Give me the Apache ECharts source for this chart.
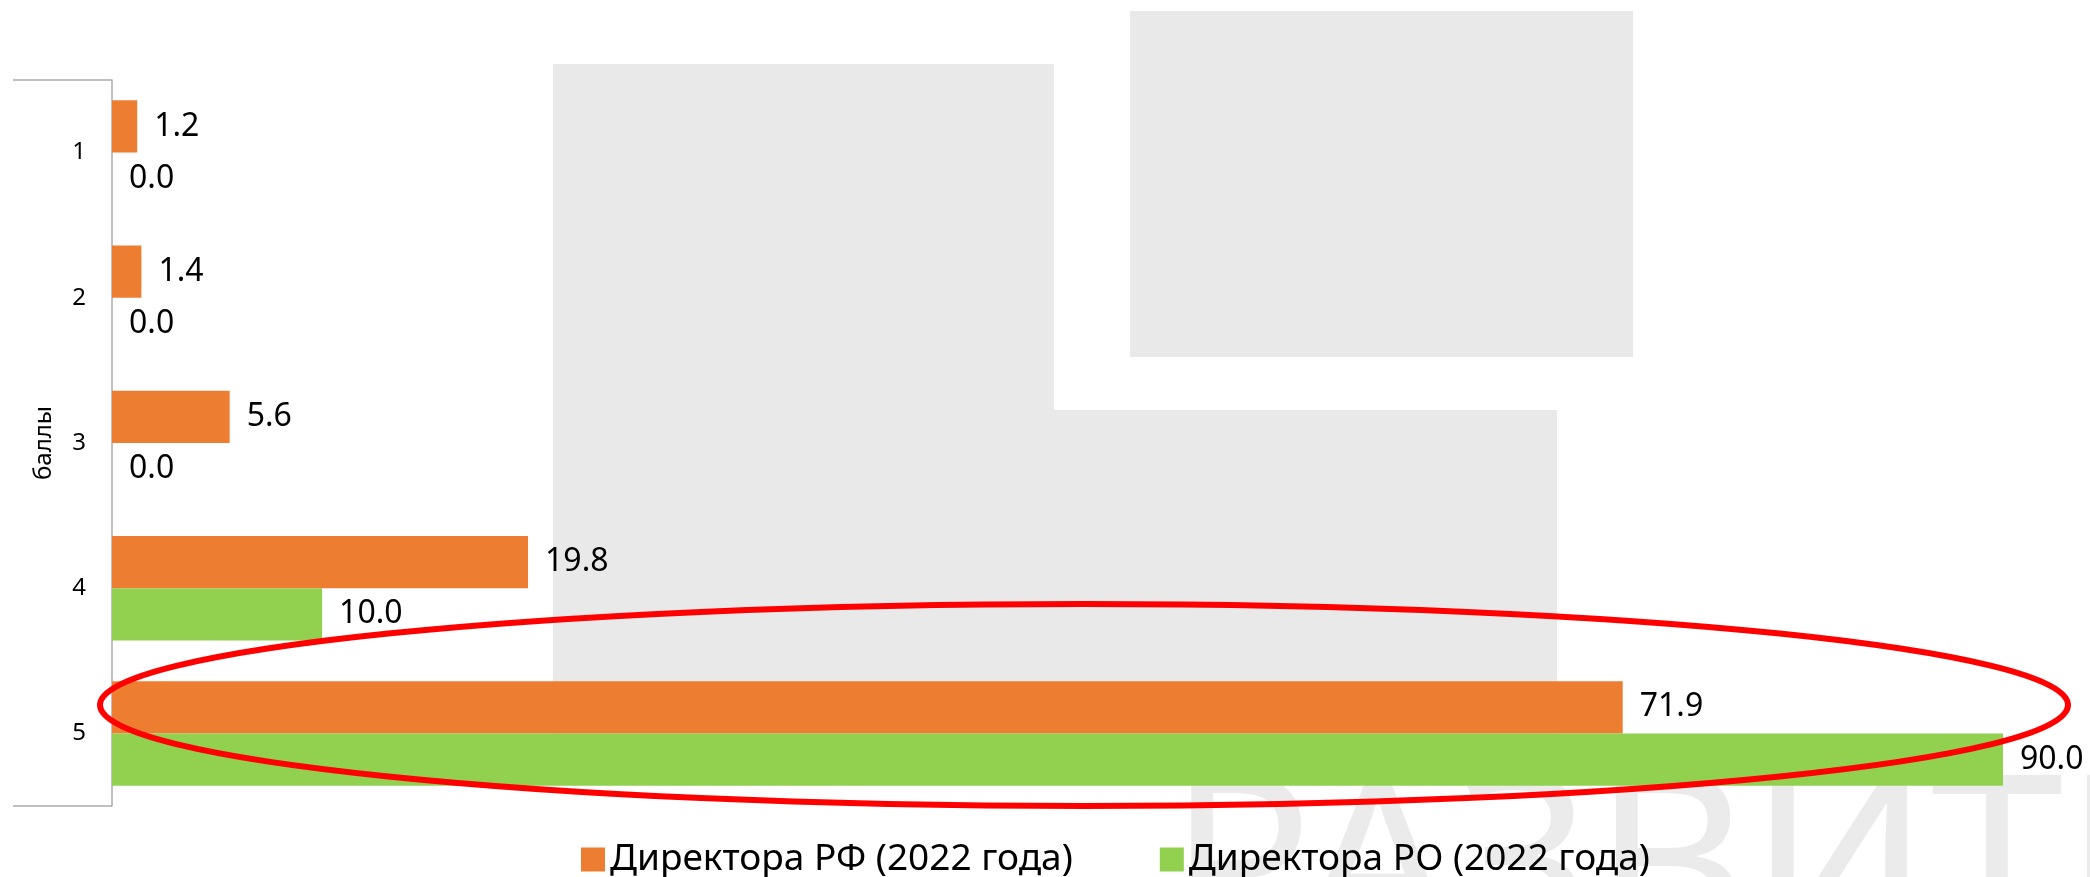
<!DOCTYPE html>
<html>
<head>
<meta charset="utf-8">
<script src="https://cdn.jsdelivr.net/npm/echarts@6.0.0/dist/echarts.min.js"></script>
<style>
  html, body { margin: 0; padding: 0; background: #fff; }
  #chart { width: 2090px; height: 877px; }
</style>
</head>
<body>
<div id="chart"></div>
<script>
var categories = ['1', '2', '3', '4', '5'];
var rfValues = [1.2, 1.4, 5.6, 19.8, 71.9];
var roValues = [0.0, 0.0, 0.0, 10.0, 90.0];
var seriesNames = ['Директора РФ (2022 года)', 'Директора РО (2022 года)'];
var axisName = 'баллы';

var font = 'Noto Sans';
var myChart = echarts.init(document.getElementById('chart'));

function barLabel() {
    return {
        show: true,
        position: 'right',
        distance: 17,
        fontFamily: font,
        fontSize: 32,
        color: '#000',
        formatter: function (p) { return p.value.toFixed(1); }
    };
}

myChart.setOption({
    animation: false,
    textStyle: { fontFamily: font },
    grid: { left: 112, top: 80, width: 1891, height: 726 },
    legend: {
        data: seriesNames,
        left: 576,
        top: 836,
        icon: 'rect',
        itemWidth: 24,
        itemHeight: 24,
        itemGap: 87,
        textStyle: { fontFamily: font, fontSize: 37, color: '#000' }
    },
    xAxis: {
        type: 'value',
        min: 0,
        max: 90,
        show: false
    },
    yAxis: {
        type: 'category',
        data: categories,
        inverse: true,
        name: axisName,
        nameLocation: 'middle',
        nameRotate: 90,
        nameGap: 56,
        nameTextStyle: { fontFamily: font, fontSize: 24, color: '#000' },
        axisLine: { lineStyle: { color: '#ababab', width: 1.5 } },
        axisTick: { show: false },
        axisLabel: { margin: 26, fontFamily: font, fontSize: 24, color: '#000' },
        splitLine: { show: false }
    },
    graphic: [
        // watermark logo behind the plot
        { type: 'rect', z: -10, shape: { x: 553, y: 64, width: 501, height: 716 }, style: { fill: '#e9e9e9' } },
        { type: 'rect', z: -10, shape: { x: 1054, y: 410, width: 503, height: 370 }, style: { fill: '#e9e9e9' } },
        { type: 'rect', z: -10, shape: { x: 1130, y: 11, width: 503, height: 346 }, style: { fill: '#e9e9e9' } },
        { type: 'text', z: -10, x: 1168, y: 758, style: { text: 'РАЗВИТИЕ', fontFamily: font, fontSize: 240, fill: '#ebebeb' } },
        // bracket lines of the category axis
        { type: 'line', shape: { x1: 13, y1: 80, x2: 112, y2: 80 }, style: { stroke: '#ababab', lineWidth: 1.5 } },
        { type: 'line', shape: { x1: 13, y1: 806, x2: 112, y2: 806 }, style: { stroke: '#ababab', lineWidth: 1.5 } },
        // red highlight
        { type: 'ellipse', z: 100, shape: { cx: 1084, cy: 705, rx: 984, ry: 101 }, style: { fill: 'none', stroke: '#ff0000', lineWidth: 6 } }
    ],
    series: [
        {
            name: seriesNames[0],
            type: 'bar',
            data: rfValues,
            barGap: '0%',
            barCategoryGap: '28%',
            itemStyle: { color: '#ED7D31' },
            label: barLabel()
        },
        {
            name: seriesNames[1],
            type: 'bar',
            data: roValues,
            barGap: '0%',
            barCategoryGap: '28%',
            itemStyle: { color: '#92D050' },
            label: barLabel()
        }
    ]
});
</script>
</body>
</html>
